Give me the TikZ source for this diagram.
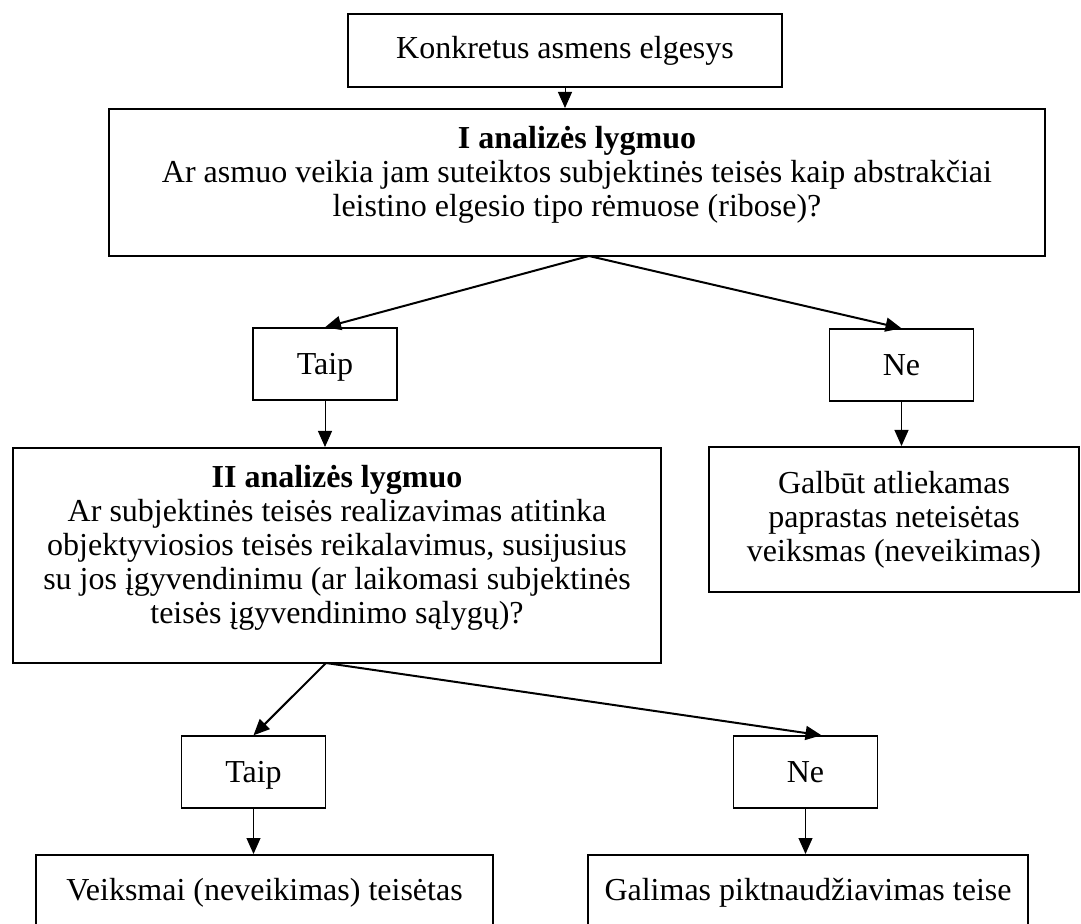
\documentclass[tikz,border=0pt]{standalone}
\usepackage{fontspec}
\setmainfont{Liberation Serif}
\usetikzlibrary{arrows.meta}

\tikzset{
  box/.style={draw, line width=1pt, align=center, inner sep=0pt, font=\fontsize{16}{17}\selectfont},
  answer/.style={box, line width=0.7pt, minimum width=72pt, minimum height=36pt, text height=12pt, text depth=1.4pt},
  fork/.style={line width=1pt, -{Triangle[length=8pt,width=7pt]}},
  down/.style={line width=0.5pt, -{Triangle[length=8pt,width=7pt]}}
}

\begin{document}
\begin{tikzpicture}[x=0.5pt,y=-0.5pt]
  \useasboundingbox (0,0) rectangle (1081,924);

  % Start
  \node[box, minimum width=217pt, minimum height=36.5pt] (top) at (565,50.5) {Konkretus asmens elgesys};

  % First level
  \node[box, minimum width=468pt, minimum height=73.5pt, text depth=11pt] (lvl1) at (577,182.5)
    {\textbf{I analizės lygmuo}\\Ar asmuo veikia jam suteiktos subjektinės teisės kaip abstrakčiai\\leistino elgesio tipo rėmuose (ribose)?};
  \node[answer] (taipA) at (325,364) {Taip};
  \node[answer] (neA) at (901.5,365) {Ne};

  % Second level
  \node[box, minimum width=324pt, minimum height=107.5pt, text depth=11pt] (lvl2) at (337,555.5)
    {\textbf{II analizės lygmuo}\\Ar subjektinės teisės realizavimas atitinka\\objektyviosios teisės reikalavimus, susijusius\\su jos įgyvendinimu (ar laikomasi subjektinės\\teisės įgyvendinimo sąlygų)?};
  \node[box, minimum width=185pt, minimum height=72.5pt] (galbut) at (894,519.5)
    {Galbūt atliekamas\\paprastas neteisėtas\\veiksmas (neveikimas)};
  \node[answer] (taipB) at (253.5,772) {Taip};
  \node[answer] (neB) at (805.5,772) {Ne};

  % Results
  \node[box, minimum width=228.5pt, minimum height=38pt] (res1) at (264.5,893) {Veiksmai (neveikimas) teisėtas};
  \node[box, minimum width=220pt, minimum height=38pt] (res2) at (808,893) {Galimas piktnaudžiavimas teise};

  % Arrows
  \draw[down] (top.south) -- (top.south |- lvl1.north);
  \coordinate (fork1) at (589,256);
  \draw[fork] (fork1) -- (taipA.north);
  \draw[fork] (fork1) -- (neA.north);
  \draw[down] (taipA.south) -- (taipA.south |- lvl2.north);
  \draw[down] (neA.south) -- (neA.south |- galbut.north);
  \coordinate (fork2) at (326,663);
  \draw[fork] (fork2) -- (taipB.north);
  \draw[fork] (fork2) -- ([xshift=8pt]neB.north);
  \draw[down] (taipB.south) -- (taipB.south |- res1.north);
  \draw[down] (neB.south) -- (neB.south |- res2.north);
\end{tikzpicture}
\end{document}
